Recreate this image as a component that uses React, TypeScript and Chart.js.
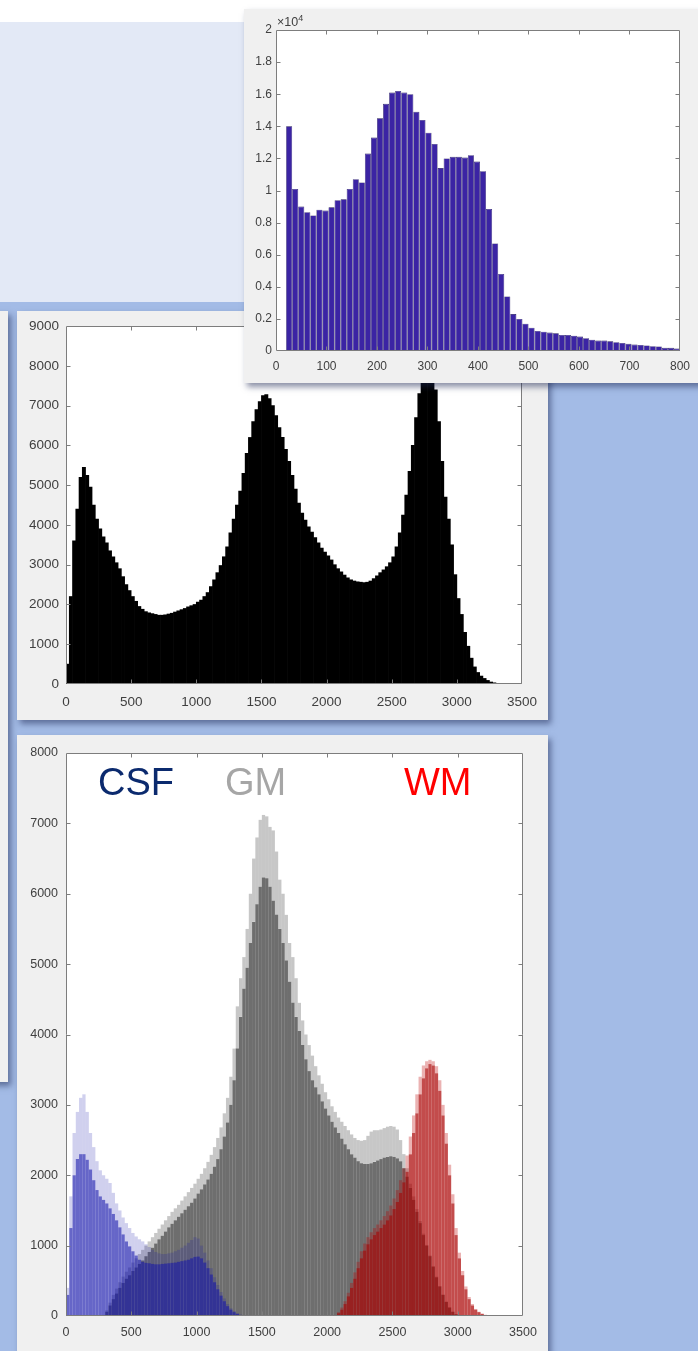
import React, { useEffect, useRef } from "react";
import { Chart, registerables } from "chart.js";

Chart.register(...registerables);
Chart.defaults.font.family = '"Liberation Sans", Arial, Helvetica, sans-serif';

// ---------------- Top-right histogram (x 0–800, counts shown ×10^4) ----------------
const TOP_BIN_CENTERS = [26, 38, 50, 62, 74, 86, 98, 110, 122, 134, 146, 158, 170, 182, 194, 206, 218, 230, 242, 254, 266, 278, 290, 302, 314, 326, 338, 350, 362, 374, 386, 398, 410, 422, 434, 446, 458, 470, 482, 494, 506, 518, 530, 542, 554, 566, 578, 590, 602, 614, 626, 638, 650, 662, 674, 686, 698, 710, 722, 734, 746, 758, 770, 782, 794];
const TOP_COUNTS = [14000, 10100, 9000, 8650, 8450, 8800, 8750, 8950, 9400, 9450, 10100, 10700, 10500, 12300, 13300, 14500, 15400, 16100, 16200, 16100, 16000, 14900, 14400, 13600, 12900, 11400, 12000, 12100, 12100, 12050, 12200, 11800, 11200, 8850, 6700, 4800, 3400, 2300, 2000, 1700, 1450, 1250, 1200, 1150, 1100, 1000, 1000, 950, 900, 800, 700, 650, 650, 600, 550, 500, 450, 400, 380, 350, 300, 280, 200, 200, 150];

// ---------------- Middle + bottom histograms (x 0–3500, bins of 25) ----------------
const BIN_CENTERS = [
  12.5, 37.5, 62.5, 87.5, 112.5, 137.5, 162.5, 187.5, 212.5, 237.5,
  262.5, 287.5, 312.5, 337.5, 362.5, 387.5, 412.5, 437.5, 462.5, 487.5,
  512.5, 537.5, 562.5, 587.5, 612.5, 637.5, 662.5, 687.5, 712.5, 737.5,
  762.5, 787.5, 812.5, 837.5, 862.5, 887.5, 912.5, 937.5, 962.5, 987.5,
  1012.5, 1037.5, 1062.5, 1087.5, 1112.5, 1137.5, 1162.5, 1187.5, 1212.5, 1237.5,
  1262.5, 1287.5, 1312.5, 1337.5, 1362.5, 1387.5, 1412.5, 1437.5, 1462.5, 1487.5,
  1512.5, 1537.5, 1562.5, 1587.5, 1612.5, 1637.5, 1662.5, 1687.5, 1712.5, 1737.5,
  1762.5, 1787.5, 1812.5, 1837.5, 1862.5, 1887.5, 1912.5, 1937.5, 1962.5, 1987.5,
  2012.5, 2037.5, 2062.5, 2087.5, 2112.5, 2137.5, 2162.5, 2187.5, 2212.5, 2237.5,
  2262.5, 2287.5, 2312.5, 2337.5, 2362.5, 2387.5, 2412.5, 2437.5, 2462.5, 2487.5,
  2512.5, 2537.5, 2562.5, 2587.5, 2612.5, 2637.5, 2662.5, 2687.5, 2712.5, 2737.5,
  2762.5, 2787.5, 2812.5, 2837.5, 2862.5, 2887.5, 2912.5, 2937.5, 2962.5, 2987.5,
  3012.5, 3037.5, 3062.5, 3087.5, 3112.5, 3137.5, 3162.5, 3187.5, 3212.5, 3237.5,
  3262.5, 3287.5, 3312.5, 3337.5, 3362.5, 3387.5, 3412.5, 3437.5, 3462.5, 3487.5,
];

const ALL_COUNTS = [
  500, 2200, 3600, 4400, 5200, 5450, 5250, 4950, 4500, 4150,
  3900, 3700, 3550, 3350, 3200, 3050, 2900, 2700, 2500, 2350,
  2200, 2080, 1950, 1880, 1820, 1790, 1770, 1750, 1730, 1730,
  1740, 1760, 1780, 1810, 1840, 1870, 1900, 1940, 1970, 2000,
  2060, 2110, 2200, 2300, 2450, 2620, 2800, 2980, 3200, 3450,
  3800, 4150, 4500, 4850, 5300, 5800, 6200, 6600, 6900, 7100,
  7250, 7280, 7180, 7000, 6750, 6450, 6200, 5900, 5600, 5250,
  4900, 4550, 4300, 4120, 3950, 3820, 3680, 3550, 3420, 3320,
  3220, 3120, 3000, 2900, 2820, 2740, 2670, 2620, 2590, 2570,
  2560, 2550, 2560, 2590, 2650, 2720, 2800, 2870, 2950, 3050,
  3200, 3450, 3800, 4250, 4750, 5350, 6000, 6700, 7300, 7700,
  8000, 8050, 7900, 7400, 6600, 5600, 4700, 4150, 3500, 2750,
  2150, 1750, 1300, 950, 650, 430, 290, 200, 140, 90,
  50, 30, 15, 8, 3, 0, 0, 0, 0, 0,
];

const Z10 = [0, 0, 0, 0, 0, 0, 0, 0, 0, 0];

const CSF_MAIN = [
  300, 1250, 2000, 2230, 2300, 2300, 2220, 2080, 1930, 1790,
  1700, 1650, 1600, 1530, 1450, 1360, 1260, 1160, 1060, 990,
  920, 860, 800, 770, 755, 750, 740, 735, 735, 740,
  745, 750, 755, 760, 770, 780, 790, 800, 820, 840,
  845, 820, 760, 680, 590, 480, 380, 290, 210, 140,
  90, 55, 30, 15, 8, 3, 0, 0, 0, 0,
  ...Z10, ...Z10, ...Z10, ...Z10, ...Z10, ...Z10, ...Z10, ...Z10,
];
const CSF_PEAKS = [
  400, 1700, 2600, 2900, 3100, 3150, 2900, 2600, 2400, 2200,
  2070, 2000, 1950, 1890, 1750, 1600, 1500, 1400, 1320, 1250,
  1180, 1130, 1090, 1060, 1020, 980, 940, 910, 890, 880,
  880, 890, 900, 920, 940, 970, 1000, 1040, 1080, 1120,
  1100, 1000, 900, 790, 680, 550, 440, 340, 250, 170,
  110, 70, 40, 20, 10, 4, 0, 0, 0, 0,
  ...Z10, ...Z10, ...Z10, ...Z10, ...Z10, ...Z10, ...Z10, ...Z10,
];

const GM_MAIN = [
  ...Z10,
  0, 10, 60, 150, 240, 320, 400, 470, 530, 580,
  640, 690, 740, 790, 850, 910, 970, 1030, 1090, 1140,
  1200, 1260, 1310, 1360, 1410, 1460, 1510, 1560, 1610, 1670,
  1740, 1800, 1870, 1940, 2020, 2120, 2230, 2370, 2550, 2750,
  3000, 3350, 3800, 4250, 4650, 4950, 5300, 5600, 5850, 6100,
  6230, 6220, 6100, 5900, 5700, 5500, 5300, 5050, 4750, 4450,
  4250, 4050, 3850, 3650, 3480, 3350, 3250, 3150, 3050, 2950,
  2850, 2760, 2680, 2600, 2520, 2440, 2370, 2300, 2250, 2200,
  2170, 2160, 2160, 2170, 2190, 2210, 2230, 2250, 2260, 2270,
  2260, 2240, 2200, 2100, 1980, 1820, 1650, 1480, 1320, 1150,
  1000, 850, 700, 550, 420, 300, 200, 120, 60, 25,
  8, 0, 0, 0, 0, 0, 0, 0, 0, 0,
  ...Z10,
];
const GM_PEAKS = [
  ...Z10,
  0, 15, 80, 190, 300, 390, 480, 560, 630, 690,
  760, 820, 880, 940, 1000, 1060, 1120, 1180, 1240, 1300,
  1360, 1420, 1480, 1530, 1580, 1640, 1700, 1760, 1820, 1880,
  1950, 2020, 2100, 2190, 2290, 2400, 2530, 2680, 2880, 3100,
  3400, 3800, 4400, 4800, 5100, 5500, 6000, 6500, 6800, 7050,
  7120, 7100, 6950, 6900, 6600, 6200, 6000, 5700, 5300, 5100,
  4800, 4450, 4200, 4000, 3850, 3700, 3550, 3420, 3300, 3180,
  3080, 2980, 2900, 2820, 2760, 2700, 2640, 2580, 2530, 2500,
  2490, 2500, 2560, 2620, 2640, 2640, 2650, 2670, 2690, 2700,
  2690, 2650, 2500, 2300, 2100, 1880, 1700, 1520, 1350, 1170,
  1010, 860, 710, 560, 425, 305, 205, 125, 62, 26,
  8, 0, 0, 0, 0, 0, 0, 0, 0, 0,
  ...Z10,
];

const WM_MAIN = [
  ...Z10, ...Z10, ...Z10, ...Z10, ...Z10, ...Z10, ...Z10, ...Z10,
  0, 0, 10, 40, 90, 170, 280, 400, 530, 680,
  820, 930, 1020, 1090, 1150, 1200, 1250, 1300, 1360, 1430,
  1520, 1620, 1750, 1900, 2050, 2300, 2600, 2880, 3150, 3380,
  3520, 3580, 3560, 3450, 3200, 2850, 2450, 2000, 1600, 1150,
  820, 580, 380, 240, 150, 90, 55, 30, 15, 5,
  ...Z10,
];
const WM_PEAKS = [
  ...Z10, ...Z10, ...Z10, ...Z10, ...Z10, ...Z10, ...Z10, ...Z10,
  0, 0, 15, 55, 120, 210, 330, 470, 620, 770,
  920, 1030, 1120, 1190, 1250, 1300, 1360, 1420, 1490, 1570,
  1670, 1790, 1930, 2100, 2280, 2550, 2850, 3150, 3400, 3560,
  3620, 3640, 3620, 3550, 3350, 3000, 2600, 2150, 1730, 1250,
  900, 640, 420, 270, 170, 100, 60, 34, 17, 6,
  ...Z10,
];

const TISSUE_LABELS = ["CSF", "GM", "WM"];
const TISSUE_TEXT_COLORS = ["#0b2a6e", "#a6a6a6", "#ff0000"];

const TICK_COLOR = "#404040";
const AXIS_COLOR = "#7d7d7d";

const matlabBox = {
  id: "matlabBox",
  beforeDraw(chart: any) {
    const { ctx, chartArea: a } = chart;
    ctx.save();
    ctx.fillStyle = "#ffffff";
    ctx.fillRect(a.left, a.top, a.right - a.left, a.bottom - a.top);
    ctx.restore();
  },
  afterDraw(chart: any, _args: any, opts: any) {
    const { ctx, chartArea: a } = chart;
    const xs = chart.scales.x;
    const ys = chart.scales.y;
    const L = Math.round(a.left) + 0.5;
    const R = Math.round(a.right) - 0.5;
    const T = Math.round(a.top) + 0.5;
    const B = Math.round(a.bottom) - 0.5;
    const tl = (opts && opts.tickLen) || 4;
    ctx.save();
    ctx.strokeStyle = AXIS_COLOR;
    ctx.lineWidth = 1;
    ctx.beginPath();
    ctx.rect(L, T, R - L, B - T);
    xs.ticks.forEach((t: any) => {
      const p = Math.round(xs.getPixelForValue(t.value)) + 0.5;
      if (p <= L + 1 || p >= R - 1) return;
      ctx.moveTo(p, B);
      ctx.lineTo(p, B - tl);
      ctx.moveTo(p, T);
      ctx.lineTo(p, T + tl);
    });
    ys.ticks.forEach((t: any) => {
      const p = Math.round(ys.getPixelForValue(t.value)) + 0.5;
      if (p <= T + 1 || p >= B - 1) return;
      ctx.moveTo(L, p);
      ctx.lineTo(L + tl, p);
      ctx.moveTo(R, p);
      ctx.lineTo(R - tl, p);
    });
    ctx.stroke();
    ctx.restore();
  },
};

type AxCfg = {
  padTop: number;
  padRight: number;
  yW: number;
  xH: number;
  xMax: number;
  xStep: number;
  yMax: number;
  yStep: number;
  font: number;
  yPad: number;
  xPad: number;
  yFmt?: (v: number) => string;
};

function makeOptions(c: AxCfg) {
  return {
    responsive: false,
    animation: false,
    events: [],
    layout: { padding: { top: c.padTop, right: c.padRight, left: 0, bottom: 0 } },
    plugins: { legend: { display: false }, tooltip: { enabled: false }, matlabBox: { tickLen: 4 } },
    datasets: { bar: { grouped: false, barPercentage: 1, categoryPercentage: 1 } },
    scales: {
      x: {
        type: "linear",
        min: 0,
        max: c.xMax,
        offset: false,
        grid: { display: false, drawTicks: false, offset: false },
        border: { display: false },
        ticks: {
          stepSize: c.xStep,
          padding: c.xPad,
          color: TICK_COLOR,
          font: { size: c.font },
          maxRotation: 0,
          autoSkip: false,
          callback: (v: any) => String(v),
        },
        afterFit: (s: any) => {
          s.height = c.xH;
        },
      },
      y: {
        type: "linear",
        min: 0,
        max: c.yMax,
        grid: { display: false, drawTicks: false },
        border: { display: false },
        ticks: {
          stepSize: c.yStep,
          padding: c.yPad,
          color: TICK_COLOR,
          font: { size: c.font },
          autoSkip: false,
          callback: (v: any) => (c.yFmt ? c.yFmt(Number(v)) : String(v)),
        },
        afterFit: (s: any) => {
          s.width = c.yW;
        },
      },
    },
  };
}

function topConfig() {
  return {
    type: "bar",
    data: {
      datasets: [
        {
          data: TOP_BIN_CENTERS.map((x, i) => ({ x, y: TOP_COUNTS[i] })),
          backgroundColor: "#3b24a4",
          borderColor: "#1c1255",
          borderWidth: 0.6,
          borderSkipped: "bottom",
          inflateAmount: 0,
        },
      ],
    },
    options: makeOptions({
      padTop: 21, padRight: 14, yW: 32, xH: 32, xMax: 800, xStep: 100, yMax: 20000, yStep: 2000,
      font: 12, yPad: 4, xPad: 8,
      yFmt: (v) => String(Number((v / 10000).toFixed(1))),
    }),
    plugins: [matlabBox],
  };
}

function middleConfig() {
  return {
    type: "bar",
    data: {
      datasets: [
        {
          data: BIN_CENTERS.map((x, i) => ({ x, y: ALL_COUNTS[i] })),
          backgroundColor: "#000000",
          borderWidth: 0,
        },
      ],
    },
    options: makeOptions({
      padTop: 15, padRight: 26, yW: 49, xH: 36, xMax: 3500, xStep: 500, yMax: 9000, yStep: 1000,
      font: 13.5, yPad: 7, xPad: 10,
    }),
    plugins: [matlabBox],
  };
}

function bottomConfig() {
  const solid = (vals: number[]) => BIN_CENTERS.map((x, i) => ({ x, y: vals[i] }));
  const spikes = (lo: number[], hi: number[]) =>
    BIN_CENTERS.map((x, i) => ({ x, y: [lo[i], Math.max(lo[i], hi[i])] }));
  return {
    type: "bar",
    data: {
      datasets: [
        { label: "WM", data: solid(WM_MAIN), backgroundColor: "rgba(170,0,0,0.7)", borderWidth: 0, inflateAmount: 0, order: 1 },
        { label: "WM peaks", data: spikes(WM_MAIN, WM_PEAKS), backgroundColor: "rgba(190,0,0,0.3)", borderWidth: 0, inflateAmount: 0, order: 2 },
        { label: "CSF", data: solid(CSF_MAIN), backgroundColor: "rgba(20,20,170,0.65)", borderWidth: 0, inflateAmount: 0, order: 3 },
        { label: "CSF peaks", data: spikes(CSF_MAIN, CSF_PEAKS), backgroundColor: "rgba(20,20,170,0.2)", borderWidth: 0, inflateAmount: 0, order: 4 },
        { label: "GM", data: solid(GM_MAIN), backgroundColor: "rgba(0,0,0,0.57)", borderWidth: 0, inflateAmount: 0, order: 5 },
        { label: "GM peaks", data: spikes(GM_MAIN, GM_PEAKS), backgroundColor: "rgba(0,0,0,0.22)", borderWidth: 0, inflateAmount: 0, order: 6 },
      ],
    },
    options: makeOptions({
      padTop: 18, padRight: 25, yW: 49, xH: 35, xMax: 3500, xStep: 500, yMax: 8000, yStep: 1000,
      font: 12.5, yPad: 8, xPad: 9,
    }),
    plugins: [matlabBox],
  };
}

function ChartCanvas({ width, height, make }: { width: number; height: number; make: () => any }) {
  const ref = useRef<HTMLCanvasElement | null>(null);
  useEffect(() => {
    if (!ref.current) return;
    const chart = new Chart(ref.current, make());
    return () => chart.destroy();
  }, []);
  return <canvas ref={ref} width={width} height={height} style={{ display: "block", width, height }} />;
}

const shadow = "3px 4px 6px rgba(25,35,80,0.5)";

export default function App() {
  const tissueLeft = [98, 225, 404];
  return (
    <div
      style={{
        position: "absolute",
        left: 0,
        top: 0,
        width: 698,
        height: 1351,
        overflow: "hidden",
        background: "#ffffff",
        fontFamily: '"Liberation Sans", Arial, Helvetica, sans-serif',
      }}
    >
      <div style={{ position: "absolute", left: 0, top: 22, width: 698, height: 280, background: "#e3e9f6" }} />
      <div style={{ position: "absolute", left: 0, top: 302, width: 698, height: 1049, background: "#a3bbe6" }} />

      {/* partially visible panel at the left edge */}
      <div style={{ position: "absolute", left: -40, top: 311, width: 48, height: 771, background: "#f0f0f0", boxShadow: shadow }} />

      {/* middle panel */}
      <div style={{ position: "absolute", left: 17, top: 311, width: 531, height: 409, background: "#f0f0f0", boxShadow: shadow, zIndex: 1 }}>
        <ChartCanvas width={531} height={409} make={middleConfig} />
      </div>

      {/* bottom panel */}
      <div style={{ position: "absolute", left: 17, top: 735, width: 531, height: 630, background: "#f0f0f0", boxShadow: shadow, zIndex: 1 }}>
        <ChartCanvas width={531} height={616} make={bottomConfig} />
      </div>
      {TISSUE_LABELS.map((t, i) => (
        <div
          key={t}
          style={{
            position: "absolute",
            left: tissueLeft[i],
            top: 763,
            fontSize: 38,
            lineHeight: "38px",
            color: TISSUE_TEXT_COLORS[i],
            zIndex: 2,
            whiteSpace: "nowrap",
          }}
        >
          {t}
        </div>
      ))}

      {/* top-right panel */}
      <div style={{ position: "absolute", left: 244, top: 9, width: 470, height: 374, background: "#f0f0f0", boxShadow: shadow, zIndex: 3 }}>
        <ChartCanvas width={454} height={374} make={topConfig} />
        <div style={{ position: "absolute", left: 33, top: 7, fontSize: 12.5, lineHeight: "12px", color: TICK_COLOR, whiteSpace: "nowrap" }}>
          ×10<span style={{ fontSize: 9, position: "relative", top: -5 }}>4</span>
        </div>
      </div>
    </div>
  );
}
